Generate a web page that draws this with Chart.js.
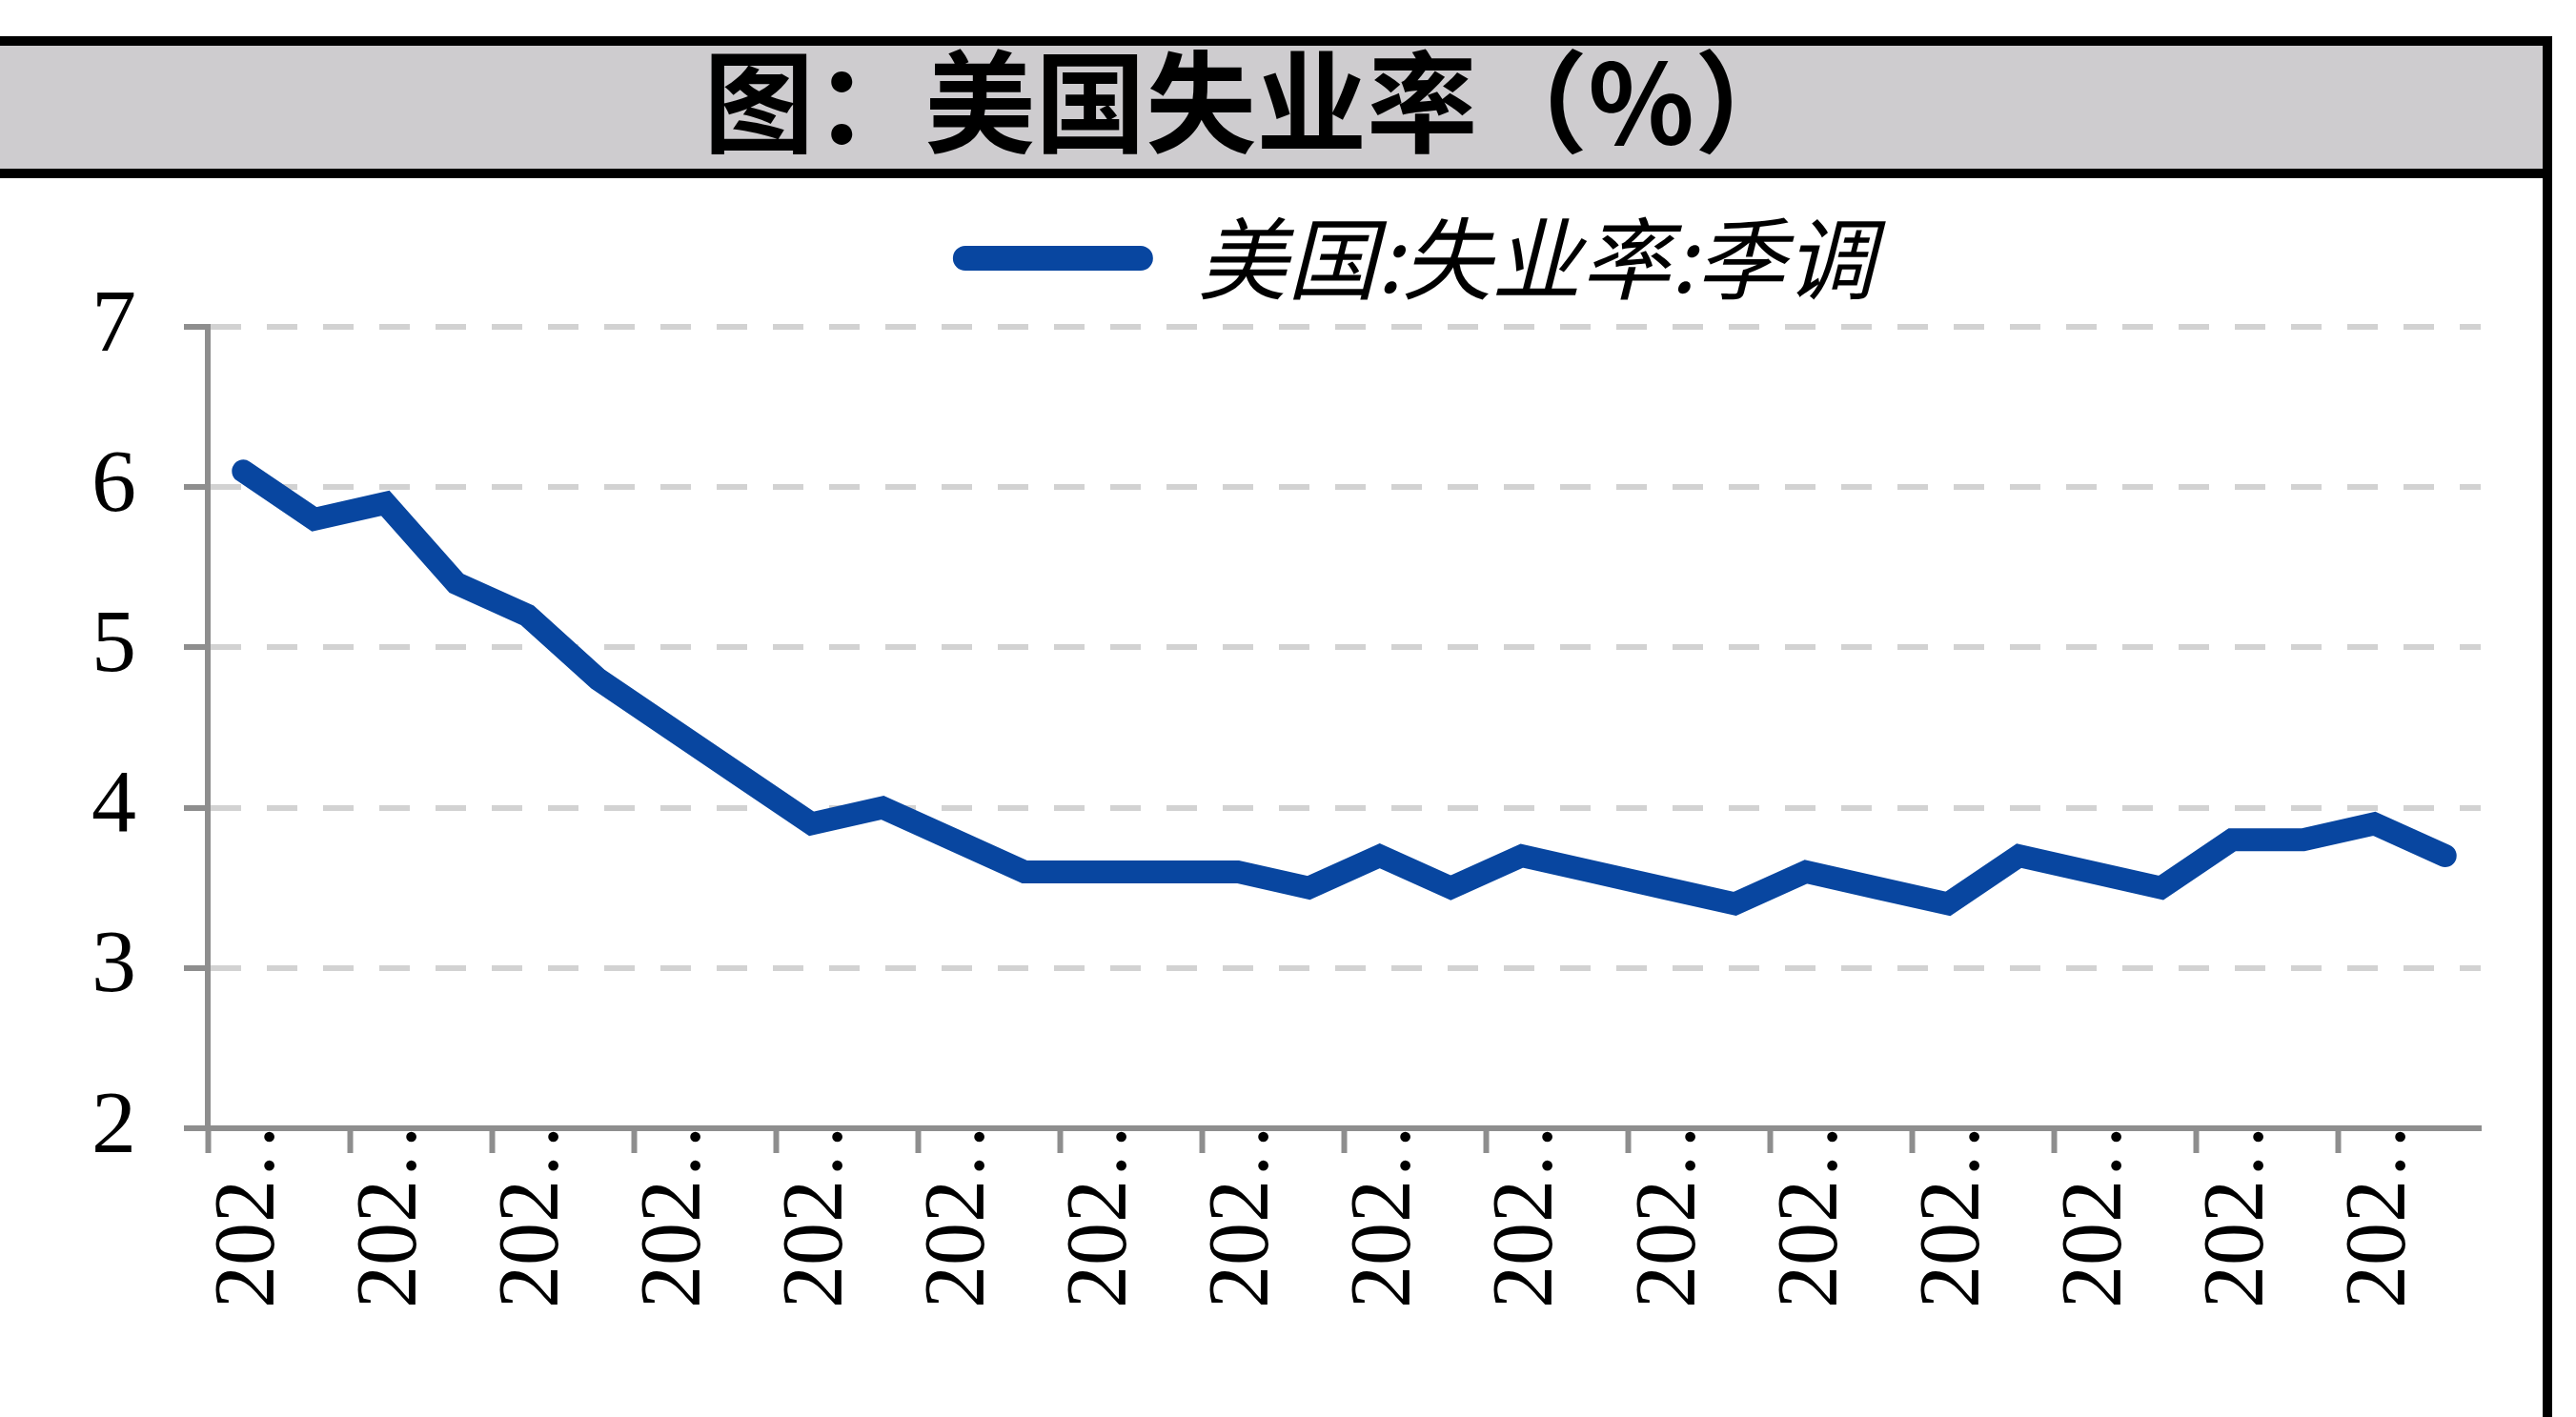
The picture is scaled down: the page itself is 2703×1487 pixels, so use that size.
<!DOCTYPE html>
<html>
<head>
<meta charset="utf-8">
<script src="https://cdn.jsdelivr.net/npm/chart.js@4.4.0/dist/chart.umd.min.js"></script>
<style>
    body { margin: 0; background: #fff; width: 2703px; height: 1487px; overflow: hidden; position: relative; }
    #titleBar {
        position: absolute; left: 0; top: 38px; width: 2632px; height: 104px;
        padding-right: 36px; padding-bottom: 25px;
        background: #cecccf; border-top: 10px solid #000; border-bottom: 10px solid #000;
        display: flex; align-items: center; justify-content: center;
        font-family: "Noto Sans CJK SC", sans-serif; font-weight: bold; font-size: 116px; color: #000;
    }
    #rightBorder { position: absolute; left: 2668px; top: 38px; width: 10px; height: 1449px; background: #000; }
    #chartBox { position: absolute; left: 0; top: 187px; }
</style>
</head>
<body>
<div id="titleBar">图：美国失业率（%）</div>
<div id="rightBorder"></div>
<div id="chartBox"><canvas id="rateChart" width="2668" height="1300"></canvas></div>
<script>
// monthly, seasonally adjusted
const categories = ['2021-04', '2021-05', '2021-06', '2021-07', '2021-08', '2021-09', '2021-10', '2021-11',
    '2021-12', '2022-01', '2022-02', '2022-03', '2022-04', '2022-05', '2022-06', '2022-07',
    '2022-08', '2022-09', '2022-10', '2022-11', '2022-12', '2023-01', '2023-02', '2023-03',
    '2023-04', '2023-05', '2023-06', '2023-07', '2023-08', '2023-09', '2023-10', '2023-11'];
const unemployment = [6.1, 5.8, 5.9, 5.4, 5.2, 4.8, 4.5, 4.2,
    3.9, 4.0, 3.8, 3.6, 3.6, 3.6, 3.6, 3.5,
    3.7, 3.5, 3.7, 3.6, 3.5, 3.4, 3.6, 3.5,
    3.4, 3.7, 3.6, 3.5, 3.8, 3.8, 3.9, 3.7];
const yTicks = [2, 3, 4, 5, 6, 7];
const seriesName = '美国:失业率:季调';

const lineBlue = '#0846a0';
const axisGray = '#8e8e8e';

// nudge the legend to the right, like the original
const legendShift = {
    id: 'legendShift',
    afterLayout(chart) {
        chart.legend.left += 364;
    }
};

const ctx = document.getElementById('rateChart').getContext('2d');
const rateChart = new Chart(ctx, {
    type: 'line',
    data: {
        labels: categories,
        datasets: [{
            label: seriesName,
            data: unemployment,
            borderColor: lineBlue,
            backgroundColor: lineBlue,
            borderWidth: 24,
            borderCapStyle: 'round',
            borderJoinStyle: 'miter',
            pointRadius: 0,
            tension: 0,
            clip: false
        }]
    },
    options: {
        responsive: false,
        animation: false,
        devicePixelRatio: 1,
        layout: {
            padding: { top: 12, right: 65, bottom: 0, left: 0 }
        },
        scales: {
            x: {
                offset: true,
                afterFit: (scale) => { scale.height = 303; },
                border: { color: axisGray, width: 6 },
                grid: {
                    offset: true,
                    drawOnChartArea: false,
                    drawTicks: true,
                    tickLength: 26,
                    tickWidth: 6,
                    tickColor: (c) => (c.index % 2 === 0 ? axisGray : 'rgba(0,0,0,0)')
                },
                ticks: {
                    autoSkip: false,
                    maxRotation: 90,
                    minRotation: 90,
                    padding: -62,
                    labelOffset: 8,
                    color: '#000',
                    font: { family: '"Liberation Serif", serif', size: 90 },
                    callback: function (value, index) {
                        return index % 2 === 0 ? this.getLabelForValue(value).slice(0, 3) + '…' : '';
                    }
                }
            },
            y: {
                min: yTicks[0],
                max: yTicks[yTicks.length - 1],
                afterFit: (scale) => { scale.width = 218; },
                border: { color: axisGray, width: 6, dash: [32, 27] },
                grid: {
                    color: '#d2d2d2',
                    lineWidth: 6,
                    drawTicks: true,
                    tickLength: 25,
                    tickWidth: 6,
                    tickColor: axisGray,
                    tickBorderDash: [1, 0]
                },
                ticks: {
                    stepSize: 1,
                    padding: 50,
                    color: '#000',
                    font: { family: '"Liberation Serif", serif', size: 94 }
                }
            }
        },
        plugins: {
            legend: {
                position: 'top',
                weight: 3000,
                labels: {
                    boxWidth: 210,
                    boxHeight: 26,
                    padding: 25,
                    color: '#000',
                    font: { family: '"Noto Sans CJK SC", sans-serif', size: 94, style: 'italic' },
                    generateLabels: () => [{
                        text: seriesName,
                        fillStyle: lineBlue,
                        strokeStyle: lineBlue,
                        lineWidth: 0,
                        borderRadius: 13,
                        datasetIndex: 0,
                        hidden: false
                    }]
                }
            },
            // empty spacer between the legend and the plot
            subtitle: {
                display: true,
                text: ' ',
                padding: { top: 14, bottom: 0 },
                font: { size: 1, lineHeight: 1 }
            },
            tooltip: { enabled: false }
        }
    },
    plugins: [legendShift]
});
</script>
</body>
</html>
